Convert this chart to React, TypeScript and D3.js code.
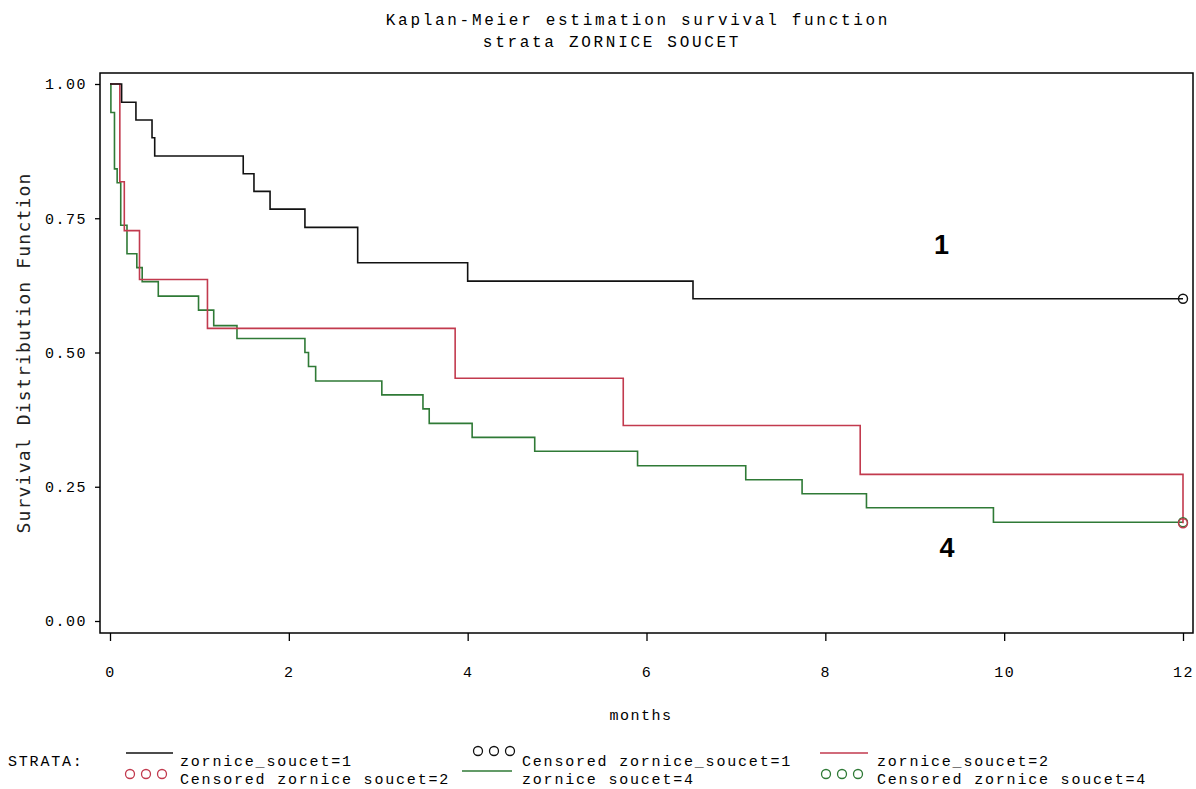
import * as d3 from 'd3';
import { useEffect, useRef } from 'react';

// Kaplan-Meier step points (months, survival)
const months1 = [0, 0.13, 0.29, 0.47, 0.5, 1.49, 1.61, 1.79, 2.18, 2.77, 4.0, 6.52, 12];
const surv1 = [1, 0.966, 0.933, 0.9, 0.866, 0.833, 0.8, 0.767, 0.733, 0.667, 0.633, 0.6, 0.6];

const months2 = [0, 0.11, 0.16, 0.33, 1.09, 3.86, 5.74, 8.39, 12];
const surv2 = [1, 0.818, 0.727, 0.636, 0.545, 0.452, 0.364, 0.273, 0.182];

const months4 = [0, 0.01, 0.05, 0.08, 0.12, 0.19, 0.3, 0.36, 0.54, 0.99, 1.16, 1.42, 2.18, 2.22, 2.3, 3.04, 3.5, 3.57, 4.05, 4.75, 5.9, 7.11, 7.74, 8.46, 9.88, 12];
const surv4 = [1, 0.947, 0.842, 0.816, 0.737, 0.684, 0.658, 0.632, 0.605, 0.579, 0.55, 0.526, 0.5, 0.474, 0.447, 0.421, 0.395, 0.368, 0.342, 0.316, 0.289, 0.263, 0.237, 0.211, 0.184, 0.184];

// censored observations
const censored1 = [[12, 0.6]];
const censored2 = [[12, 0.182]];
const censored4 = [[12, 0.184]];

const xTicks = [0, 2, 4, 6, 8, 10, 12];
const yTicks = [0, 0.25, 0.5, 0.75, 1];

const RED = '#c23a4e';
const GREEN = '#2f7a36';
const MONO = '"Liberation Mono", "Courier New", monospace';

export default function App() {
  const ref = useRef<SVGSVGElement>(null);

  useEffect(() => {
    const svg = d3.select(ref.current);
    svg.selectAll('*').remove();

    const width = 1196;
    const height = 789;
    const frame = { left: 100, top: 73, right: 1193, bottom: 633 };

    svg.attr('width', width).attr('height', height);
    svg.append('rect').attr('width', width).attr('height', height).attr('fill', '#fff');

    const x = d3.scaleLinear().domain([0, 12]).range([110, 1183]);
    const y = d3.scaleLinear().domain([0, 1]).range([621, 84]);

    // titles
    svg.append('text')
      .attr('x', 638).attr('y', 25)
      .attr('text-anchor', 'middle')
      .style('font-family', MONO).style('font-size', '16px').style('letter-spacing', '2.7px')
      .text('Kaplan-Meier estimation survival function');
    svg.append('text')
      .attr('x', 612).attr('y', 47)
      .attr('text-anchor', 'middle')
      .style('font-family', MONO).style('font-size', '16px').style('letter-spacing', '2.7px')
      .text('strata ZORNICE SOUCET');

    // frame
    svg.append('rect')
      .attr('x', frame.left).attr('y', frame.top)
      .attr('width', frame.right - frame.left).attr('height', frame.bottom - frame.top)
      .attr('fill', 'none').attr('stroke', '#000').attr('stroke-width', 1.5);

    const yAxis = svg.append('g')
      .attr('transform', `translate(${frame.left},0)`)
      .call(d3.axisLeft(y).tickValues(yTicks).tickFormat(d3.format('.2f')).tickSize(5).tickPadding(8));
    yAxis.select('.domain').remove();
    yAxis.selectAll('line').attr('stroke', '#000').attr('stroke-width', 1.3);
    yAxis.selectAll('text')
      .style('font-family', MONO).style('font-size', '15px').style('letter-spacing', '1.5px')
      .attr('fill', '#000');

    const xAxis = svg.append('g')
      .attr('transform', `translate(0,${frame.bottom})`)
      .call(d3.axisBottom(x).tickValues(xTicks).tickFormat(d3.format('d')).tickSize(8).tickPadding(25));
    xAxis.select('.domain').remove();
    xAxis.selectAll('line').attr('stroke', '#000').attr('stroke-width', 1.3);
    xAxis.selectAll('text')
      .style('font-family', MONO).style('font-size', '15px').style('letter-spacing', '1.5px')
      .attr('fill', '#000');

    svg.append('text')
      .attr('x', 641).attr('y', 720)
      .attr('text-anchor', 'middle')
      .style('font-family', MONO).style('font-size', '15px').style('letter-spacing', '1.5px')
      .text('months');

    svg.append('text')
      .attr('transform', 'translate(30,353) rotate(-90)')
      .attr('text-anchor', 'middle')
      .style('font-family', '"DejaVu Sans Mono", monospace').style('font-size', '18px').style('letter-spacing', '1.2px')
      .attr('fill', '#222')
      .text('Survival Distribution Function');

    const line = d3.line<number[]>()
      .x((d) => x(d[0]))
      .y((d) => y(d[1]))
      .curve(d3.curveStepAfter);

    const series = [
      { months: months4, surv: surv4, color: GREEN, censored: censored4 },
      { months: months2, surv: surv2, color: RED, censored: censored2 },
      { months: months1, surv: surv1, color: '#111', censored: censored1 },
    ];

    series.forEach((s) => {
      const pts = s.months.map((m, i) => [m, s.surv[i]]);
      svg.append('path')
        .attr('d', line(pts))
        .attr('fill', 'none')
        .attr('stroke', s.color)
        .attr('stroke-width', 1.6);
    });

    series.forEach((s) => {
      svg.selectAll(null)
        .data(s.censored)
        .enter()
        .append('circle')
        .attr('cx', (d) => x(d[0]))
        .attr('cy', (d) => y(d[1]))
        .attr('r', 4.5)
        .attr('fill', 'none')
        .attr('stroke', s.color)
        .attr('stroke-width', 1.4);
    });

    // strata labels
    svg.append('text')
      .attr('x', x(9.3)).attr('y', y(0.683))
      .attr('text-anchor', 'middle')
      .style('font-family', '"Liberation Sans", Arial, sans-serif').style('font-size', '27px').style('font-weight', 700)
      .text('1');
    svg.append('text')
      .attr('x', x(9.36)).attr('y', y(0.12))
      .attr('text-anchor', 'middle')
      .style('font-family', '"Liberation Sans", Arial, sans-serif').style('font-size', '27px').style('font-weight', 700)
      .text('4');

    // legend
    const legend = svg.append('g').style('font-family', MONO).style('font-size', '15px').style('letter-spacing', '1.8px');
    const row1 = 766;
    const row2 = 784;

    legend.append('text').attr('x', 8).attr('y', row1).text('STRATA:');

    const legendLine = (x1: number, x2: number, yy: number, color: string) => {
      legend.append('line')
        .attr('x1', x1).attr('x2', x2).attr('y1', yy).attr('y2', yy)
        .attr('stroke', color).attr('stroke-width', 1.4);
    };
    const legendCircles = (x0: number, yy: number, color: string) => {
      [0, 16, 32].forEach((dx) => {
        legend.append('circle')
          .attr('cx', x0 + dx).attr('cy', yy).attr('r', 4.5)
          .attr('fill', 'none').attr('stroke', color).attr('stroke-width', 1.3);
      });
    };

    legendLine(126, 173, 753, '#111');
    legend.append('text').attr('x', 180).attr('y', row1).text('zornice_soucet=1');
    legendCircles(130, 774, RED);
    legend.append('text').attr('x', 180).attr('y', row2).text('Censored zornice soucet=2');

    legendCircles(478, 751, '#111');
    legend.append('text').attr('x', 522).attr('y', row1).text('Censored zornice_soucet=1');
    legendLine(462, 512, 771, GREEN);
    legend.append('text').attr('x', 522).attr('y', row2).text('zornice soucet=4');

    legendLine(820, 868, 753, RED);
    legend.append('text').attr('x', 877).attr('y', row1).text('zornice_soucet=2');
    legendCircles(826, 774, GREEN);
    legend.append('text').attr('x', 877).attr('y', row2).text('Censored zornice soucet=4');

    return () => {
      svg.selectAll('*').remove();
    };
  }, []);

  return <svg ref={ref} style={{ position: 'absolute', left: 0, top: 0 }} />;
}
